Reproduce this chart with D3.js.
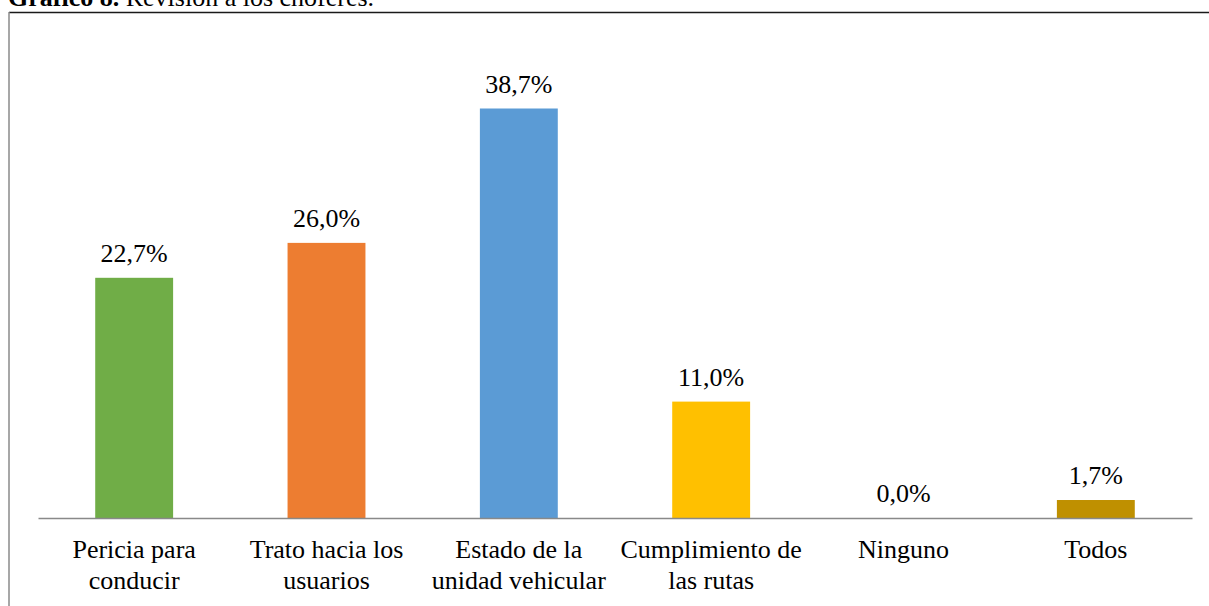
<!DOCTYPE html>
<html><head><meta charset="utf-8">
<script src="https://cdn.jsdelivr.net/npm/d3@7"></script>
<style>
html,body{margin:0;padding:0;background:#fff;overflow:hidden;}
svg{display:block;}
text{font-family:"Liberation Serif","Times New Roman",serif;}
</style></head>
<body>
<script>
const categories = [["Pericia para","conducir"],["Trato hacia los","usuarios"],["Estado de la","unidad vehicular"],["Cumplimiento de","las rutas"],["Ninguno"],["Todos"]];
const values = [22.7, 26.0, 38.7, 11.0, 0.0, 1.7];
const colors = ["#70AD47","#ED7D31","#5B9BD5","#FFC000","#A5A5A5","#BF9000"];

const W = 1209, H = 606;
const svg = d3.select("body").append("svg").attr("width", W).attr("height", H);

// title
const title = svg.append("text").attr("x", 8).attr("y", 6).attr("font-size", 26).attr("fill", "#000");
title.append("tspan").attr("font-weight", "bold").text("Gráfico 8.");
title.append("tspan").text(" Revisión a los choferes.");

// frame
svg.append("line").attr("x1", 9).attr("x2", W).attr("y1", 12.5).attr("y2", 12.5).attr("stroke", "#1a1a1a").attr("stroke-width", 1.5);
svg.append("line").attr("x1", 9).attr("x2", 9).attr("y1", 12).attr("y2", H).attr("stroke", "#8a8a8a").attr("stroke-width", 1.5);

const idx = d3.range(values.length);
const x = d3.scaleBand().domain(idx).range([38, 1192]).paddingInner(0.595).paddingOuter(0.2975);
const y = d3.scaleLinear().domain([0, 38.7]).range([518, 108.5]);

svg.selectAll("rect.bar").data(idx).enter().append("rect")
  .attr("class", "bar")
  .attr("x", i => x(i)).attr("width", x.bandwidth())
  .attr("y", i => y(values[i])).attr("height", i => y(0) - y(values[i]))
  .attr("fill", i => colors[i]);

// axis
const axis = svg.append("g").attr("transform", `translate(0,${y(0)})`)
  .call(d3.axisBottom(x).tickSize(0).tickFormat(""));
axis.select(".domain").attr("stroke", "#898989").attr("stroke-width", 1.5);

// value labels
svg.selectAll("text.val").data(idx).enter().append("text")
  .attr("class", "val")
  .attr("x", i => x(i) + x.bandwidth() / 2)
  .attr("y", i => y(values[i]) - 16)
  .attr("text-anchor", "middle").attr("font-size", 26).attr("fill", "#000")
  .text(i => values[i].toFixed(1).replace(".", ",") + "%");

// category labels
const cl = svg.selectAll("text.cat").data(idx).enter().append("text")
  .attr("class", "cat")
  .attr("text-anchor", "middle").attr("font-size", 26).attr("fill", "#000")
  .attr("x", i => x(i) + x.bandwidth() / 2)
  .attr("y", 558);
cl.each(function(i) {
  const t = d3.select(this);
  categories[i].forEach((line, k) => {
    t.append("tspan").attr("x", x(i) + x.bandwidth() / 2).attr("dy", k === 0 ? 0 : 31).text(line);
  });
});
</script>
</body></html>
